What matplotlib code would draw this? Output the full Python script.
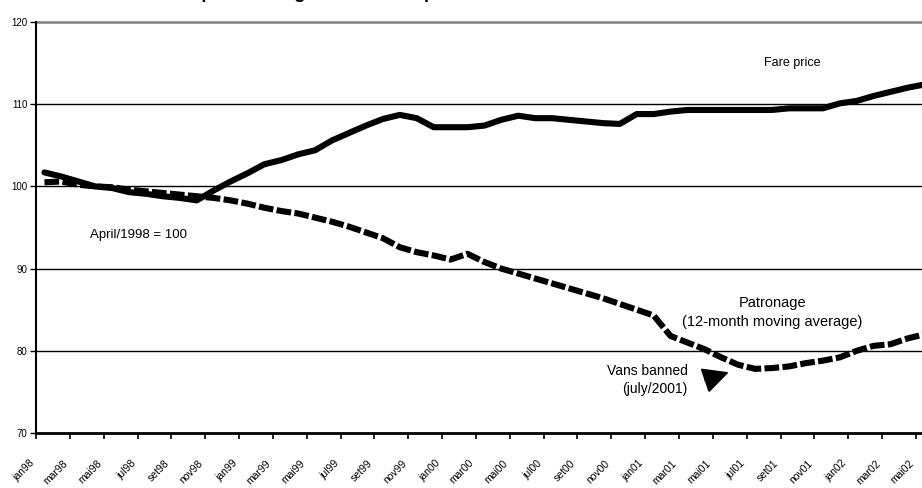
import numpy as np
import matplotlib
matplotlib.use('Agg')
import matplotlib.pyplot as plt

plt.rcParams['font.family'] = ['Liberation Sans', 'DejaVu Sans']

# Monthly index values, jan98 .. mai02 (April/1998 = 100)
fare_price = [101.7, 101.2, 100.6, 100.0, 99.8, 99.3, 99.1, 98.8, 98.6, 98.3,
              99.5, 100.6, 101.6, 102.7, 103.2, 103.9, 104.4, 105.6, 106.5, 107.4,
              108.2, 108.7, 108.3, 107.2, 107.2, 107.2, 107.4, 108.1, 108.6, 108.3,
              108.3, 108.1, 107.9, 107.7, 107.6, 108.8, 108.8, 109.1, 109.3, 109.3,
              109.3, 109.3, 109.3, 109.3, 109.5, 109.5, 109.5, 110.1, 110.4, 111.0,
              111.5, 112.0, 112.4]
patronage = [100.5, 100.6, 100.2, 100.0, 99.9, 99.6, 99.4, 99.2, 99.0, 98.8,
             98.6, 98.3, 97.9, 97.4, 97.0, 96.7, 96.2, 95.7, 95.1, 94.4,
             93.7, 92.6, 92.0, 91.6, 91.1, 91.8, 90.8, 90.0, 89.4, 88.8,
             88.2, 87.6, 87.0, 86.4, 85.7, 85.0, 84.3, 81.8, 81.0, 80.2,
             79.2, 78.3, 77.8, 77.9, 78.1, 78.5, 78.8, 79.2, 80.0, 80.6,
             80.8, 81.5, 82.0]
tick_labels = ['jan98', 'mar98', 'mai98', 'jul98', 'set98', 'nov98',
               'jan99', 'mar99', 'mai99', 'jul99', 'set99', 'nov99',
               'jan00', 'mar00', 'mai00', 'jul00', 'set00', 'nov00',
               'jan01', 'mar01', 'mai01', 'jul01', 'set01', 'nov01',
               'jan02', 'mar02', 'mai02']

months = np.arange(len(fare_price))

fig = plt.figure(figsize=(9.22, 4.88), dpi=100)
ax = fig.add_axes([36 / 922, 55 / 488, 886 / 922, 411 / 488])

ax.set_xlim(-0.5, 51.86)
ax.set_ylim(70, 120)

# gridlines
for v in [80, 90, 100, 110]:
    ax.axhline(v, color='black', lw=1.0, zorder=1)
ax.axhline(120, color='#808080', lw=1.8, zorder=1, clip_on=False)

ax.plot(months, patronage, color='black', lw=4.4, ls=(0, (2.4, 0.55)), zorder=3)
ax.plot(months, fare_price, color='black', lw=4.4, solid_joinstyle='round',
        solid_capstyle='round', zorder=4)

ax.set_yticks([70, 80, 90, 100, 110, 120])
ax.tick_params(axis='y', labelsize=7, length=4, width=1, pad=2)
ax.set_xticks(np.arange(-0.5, 52, 2))
ax.set_xticklabels(tick_labels, rotation=45, ha='right', fontsize=7.5)
ax.tick_params(axis='x', length=4, width=1.2, pad=14)

for s in ['top', 'right']:
    ax.spines[s].set_visible(False)
ax.spines['left'].set_linewidth(1.5)
ax.spines['bottom'].set_linewidth(2)

ax.text(44.2, 115.0, 'Fare price', fontsize=9, ha='center', va='center')
ax.text(2.7, 94.1, 'April/1998 = 100', fontsize=9.5, ha='left', va='center')
ax.text(43.0, 85.8, 'Patronage', fontsize=10.5, ha='center', va='center')
ax.text(43.0, 83.5, '(12-month moving average)', fontsize=10.5,
        ha='center', va='center')
ax.text(38.0, 77.5, 'Vans banned', fontsize=10, ha='right', va='center')
ax.text(38.0, 75.3, '(july/2001)', fontsize=10, ha='right', va='center')
ax.annotate('', xy=(40.6, 77.5), xytext=(38.9, 76.3),
            arrowprops=dict(arrowstyle='-|>,head_length=1.0,head_width=0.5',
                            color='black', lw=1.5, mutation_scale=16))

# title, cut off at the top edge of the image
fig.text(157 / 922, 1 + 1.5 / 488, 'Fare price change and overall patrons',
         fontsize=13.4, fontweight='bold', ha='left', va='baseline')

fig.savefig('out.png', dpi=100)
